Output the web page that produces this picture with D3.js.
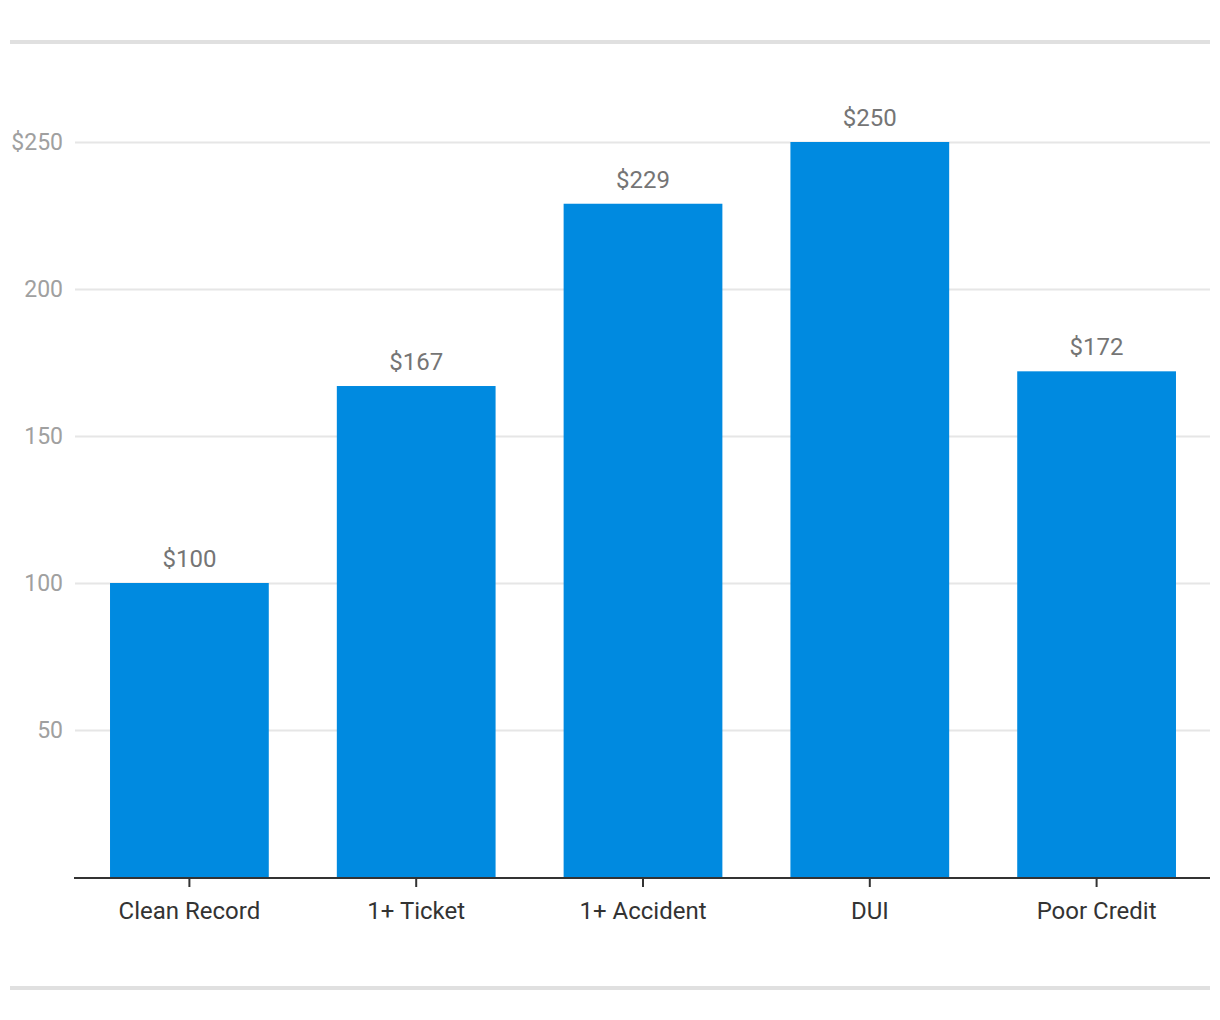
<!DOCTYPE html>
<html>
<head>
<meta charset="utf-8">
<script src="https://cdn.jsdelivr.net/npm/d3@7"></script>
<style>
  body { margin: 0; background: #fff; font-family: Roboto, sans-serif; }
  .grid line { stroke: #e6e6e6; stroke-width: 2; }
  .grid .domain { display: none; }
  .x-axis .domain { stroke: #333; stroke-width: 2; }
  .x-axis line { stroke: #333; stroke-width: 2; }
</style>
</head>
<body>
<div id="chart"></div>
<script>
// chart data
let categories = ["Clean Record", "1+ Ticket", "1+ Accident", "DUI", "Poor Credit"];
let values = [100, 167, 229, 250, 172];
let yTicks = [50, 100, 150, 200, 250];

let W = 1220, H = 1020;
let margin = {top: 142, right: 10, bottom: 142, left: 75};
let width = W - margin.left - margin.right,
    height = 877 - margin.top;

let svg = d3.select("#chart").append("svg")
    .attr("width", W)
    .attr("height", H);

// top and bottom rules
svg.append("rect").attr("x", 10).attr("y", 40).attr("width", 1200).attr("height", 4).attr("fill", "#e0e0e0");
svg.append("rect").attr("x", 10).attr("y", 986).attr("width", 1200).attr("height", 4).attr("fill", "#e0e0e0");

let g = svg.append("g")
    .attr("transform", "translate(" + margin.left + "," + margin.top + ")");

let x = d3.scaleBand()
    .domain(categories)
    .range([1, width])
    .paddingInner(0.3)
    .paddingOuter(0.15);

let y = d3.scaleLinear()
    .domain([0, 250])
    .range([height, 0]);

// gridlines
let grid = g.append("g")
    .attr("class", "grid")
    .call(d3.axisLeft(y).tickValues(yTicks).tickSize(-width).tickFormat(""));

// y labels
g.selectAll(".ylab")
    .data(yTicks)
    .enter().append("text")
    .attr("class", "ylab")
    .attr("x", -12)
    .attr("y", d => y(d))
    .attr("dy", "0.35em")
    .attr("text-anchor", "end")
    .attr("fill", "#a0a0a0")
    .style("font-size", "23px")
    .text(d => d === 250 ? "$" + d : d);

// bars
g.selectAll(".bar")
    .data(values)
    .enter().append("rect")
    .attr("class", "bar")
    .attr("x", (d, i) => x(categories[i]))
    .attr("y", d => y(d))
    .attr("width", x.bandwidth())
    .attr("height", d => height - y(d))
    .attr("fill", "#008ae0");

// value labels
g.selectAll(".vlab")
    .data(values)
    .enter().append("text")
    .attr("class", "vlab")
    .attr("x", (d, i) => x(categories[i]) + x.bandwidth() / 2)
    .attr("y", d => y(d) - 16)
    .attr("text-anchor", "middle")
    .attr("fill", "#757575")
    .style("font-size", "24px")
    .text(d => "$" + d);

// x axis
let xAxisGroup = g.append("g")
    .attr("class", "x-axis")
    .attr("transform", "translate(0," + (height + 1) + ")")
    .call(d3.axisBottom(x).tickSize(9).tickPadding(15).tickSizeOuter(0));

xAxisGroup.select(".domain").attr("d", "M-1,0H" + width);

xAxisGroup.selectAll("text")
    .attr("fill", "#333")
    .style("font-size", "24px")
    .style("font-family", "Roboto, sans-serif");
</script>
</body>
</html>
